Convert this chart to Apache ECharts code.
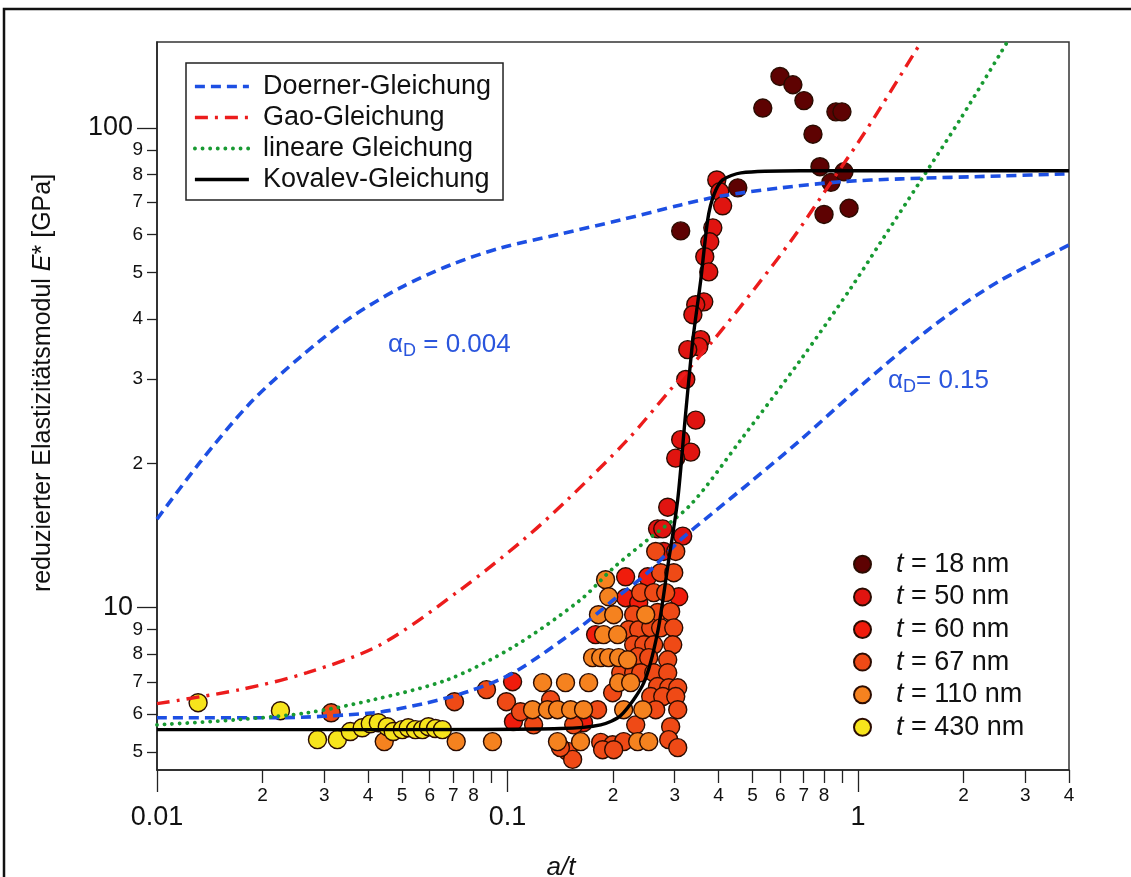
<!DOCTYPE html>
<html><head><meta charset="utf-8">
<script src="https://cdn.jsdelivr.net/npm/echarts@6/dist/echarts.min.js"></script>
<style>html,body{margin:0;padding:0;background:#fff}#c{width:1131px;height:877px}</style>
</head><body><div id="c"></div>
<script>
const FONT = '"Liberation Sans", Arial, Helvetica, sans-serif';

// ---- axis ticks / labels (real values) ----
const xMinorTicks = [0.02,0.03,0.04,0.05,0.06,0.07,0.08,0.09,0.2,0.3,0.4,0.5,0.6,0.7,0.8,0.9,2,3,4];
const xMinorLabels = [0.02,0.03,0.04,0.05,0.06,0.07,0.08,0.2,0.3,0.4,0.5,0.6,0.7,0.8,2,3,4];
const xMajorTicks = [0.01,0.1,1];
const xMajorText = ['0.01','0.1','1'];
const yMinorTicks = [5,6,7,8,9,20,30,40,50,60,70,80,90];
const yMajorTicks = [10,100];
const yMajorText = ['10','100'];
const xRange = [0.01, 4];
const yRange = [4.59, 151];

// ---- model curves ----
const doernerHigh = [[0.01,15.3],[0.01327,20.1],[0.01844,26.7],[0.02563,33.3],[0.03561,40.2],[0.0494,46.4],[0.06872,51.8],[0.0955,56.2],[0.1416,60.1],[0.2104,64.3],[0.312,69.1],[0.406,72.1],[0.6026,75.0],[0.893,77.2],[1.327,78.3],[2.563,79.4],[4,80.2]];
const doernerLow = [[0.01,5.90],[0.02145,5.90],[0.0414,6.04],[0.05754,6.31],[0.07686,6.68],[0.104,7.32],[0.1616,9.13],[0.2009,10.39],[0.2512,11.83],[0.312,13.86],[0.3802,15.63],[0.4946,18.3],[0.687,22.4],[0.955,27.8],[1.327,34.2],[1.844,41.2],[2.563,48.2],[4,57.0]];
const gao = [[0.01,6.31],[0.01727,6.75],[0.02683,7.32],[0.04336,8.37],[0.0734,10.9],[0.1111,13.86],[0.1484,16.8],[0.2202,22.4],[0.2921,28.5],[0.388,36.2],[0.5044,46.0],[0.6565,59.3],[0.821,75.4],[1.0,93.1],[1.163,110.6],[1.514,151]];
const linear = [[0.01,5.70],[0.01727,5.85],[0.02683,6.04],[0.0414,6.43],[0.0674,7.08],[0.104,8.29],[0.1616,10.39],[0.2009,12.12],[0.2512,13.86],[0.3333,16.4],[0.4636,22.4],[0.687,32.9],[0.955,46.4],[1.163,57.9],[1.514,77.9],[1.969,104.9],[2.666,151]];
const kovalev = [[0.01,5.57],[0.0494,5.57],[0.1416,5.6],[0.1845,5.70],[0.2104,5.96],[0.245,6.98],[0.268,8.87],[0.2865,12.17],[0.306,16.8],[0.321,24.6],[0.338,36.2],[0.356,48.2],[0.3725,64.3],[0.388,72.5],[0.411,77.9],[0.4636,80.6],[0.687,81.4],[4,81.4]];

// ---- measurements ----
const t18 = [[0.535,110],[0.599,128],[0.652,123],[0.701,114],[0.744,97],[0.779,83],[0.865,108],[0.900,108],[0.837,77],[0.912,81],[0.800,66],[0.943,68],[0.312,61],[0.454,75]];
const t50 = [[0.3955,77.9],[0.4034,73.6],[0.411,68.8],[0.3853,61.9],[0.3777,57.9],[0.3655,53.9],[0.3752,50.1],[0.3631,43.4],[0.3444,42.8],[0.338,40.8],[0.356,36.2],[0.3513,35.0],[0.3268,34.5],[0.3226,29.9],[0.3444,24.6],[0.312,22.4],[0.3333,21.1],[0.302,20.5],[0.2865,16.2],[0.268,14.6],[0.2773,14.6],[0.3162,14.1],[0.2791,13.1]];
const t60 = [[0.2173,11.6],[0.2512,11.6],[0.2173,10.49],[0.2368,10.24],[0.308,10.54],[0.1784,8.79],[0.1034,7.01],[0.104,5.79],[0.1648,5.76]];
const t67 = [[0.2735,11.83],[0.2981,11.83],[0.2399,10.75],[0.2613,10.75],[0.2827,10.75],[0.268,9.77],[0.2921,9.81],[0.2291,9.67],[0.2217,9.0],[0.2368,9.0],[0.2562,9.08],[0.2735,9.08],[0.2981,9.08],[0.2291,8.37],[0.245,8.37],[0.2613,8.37],[0.2961,8.37],[0.2352,7.91],[0.2529,7.87],[0.2865,7.79],[0.2104,7.32],[0.2291,7.32],[0.2399,7.32],[0.2613,7.32],[0.2865,7.32],[0.268,6.85],[0.2884,6.81],[0.306,6.81],[0.1995,6.65],[0.2562,6.53],[0.2773,6.53],[0.302,6.53],[0.1807,6.13],[0.2648,6.13],[0.306,6.13],[0.2322,5.70],[0.2921,5.65],[0.1545,5.70],[0.1845,5.24],[0.1995,5.18],[0.2145,5.26],[0.2884,5.31],[0.1484,5.02],[0.1868,5.06],[0.2009,5.06],[0.306,5.11],[0.1534,4.83],[0.2648,13.1],[0.302,13.1],[0.0706,6.37],[0.0871,6.75],[0.0993,6.37],[0.1089,6.07],[0.1187,5.70],[0.1327,6.43],[0.1416,5.11],[0.0314,6.04]];
const t110 = [[0.1905,11.44],[0.1944,10.54],[0.1818,9.67],[0.2009,9.67],[0.2479,9.67],[0.188,8.79],[0.2062,8.79],[0.1749,7.87],[0.1845,7.87],[0.1944,7.87],[0.2076,7.87],[0.2202,7.79],[0.1259,6.98],[0.1464,6.98],[0.1704,6.98],[0.2076,6.98],[0.2246,6.98],[0.1179,6.13],[0.1301,6.13],[0.1389,6.13],[0.1514,6.13],[0.1648,6.13],[0.2145,6.13],[0.2432,6.13],[0.1389,5.26],[0.1616,5.26],[0.2352,5.26],[0.2529,5.26],[0.0445,5.26],[0.0714,5.26],[0.0906,5.26]];
const t430 = [[0.0131,6.34],[0.0225,6.10],[0.0287,5.31],[0.0327,5.31],[0.0356,5.52],[0.0385,5.62],[0.0406,5.73],[0.0428,5.76],[0.0454,5.65],[0.0472,5.52],[0.0501,5.57],[0.0521,5.62],[0.0546,5.57],[0.0572,5.57],[0.0595,5.65],[0.0623,5.60],[0.0652,5.57]];

const lineNames = ['Doerner-Gleichung','Gao-Gleichung','lineare Gleichung','Kovalev-Gleichung'];
const scatterNames = ['t = 18 nm','t = 50 nm','t = 60 nm','t = 67 nm','t = 110 nm','t = 430 nm'];
const scatterData = [t18, t50, t60, t67, t110, t430];
const scatterColors = ['#5e0202','#e01410','#f01c0c','#ef4a16','#f5821f','#f7e41c'];

const L = v => Math.log10(v);
const lx = [L(xRange[0]), L(xRange[1])];
const ly = [L(yRange[0]), L(yRange[1])];
const digit = v => { const r = Math.pow(10, v); return String(Math.round(r / Math.pow(10, Math.floor(v + 1e-9)))); };
const nearestText = (vals, texts) => v => { let b = 0; vals.forEach((t, i) => { if (Math.abs(L(t) - v) < Math.abs(L(vals[b]) - v)) b = i; }); return texts[b]; };

const hidden = { axisLine:{show:false, onZero:false}, axisTick:{show:false}, axisLabel:{show:false}, splitLine:{show:false} };

const option = {
  backgroundColor: '#fff',
  animation: false,
  textStyle: { fontFamily: FONT },
  grid: { left: 157, right: 62, top: 42, bottom: 107, show: true, borderColor: '#333', borderWidth: 1.5, backgroundColor: 'transparent' },
  xAxis: [
    Object.assign({ type: 'log', logBase: 10, min: xRange[0], max: xRange[1], position: 'bottom' }, hidden),
    { type: 'value', min: lx[0], max: lx[1], position: 'bottom', splitLine:{show:false},
      axisLine: { show: true, onZero: false, lineStyle: { color: '#222', width: 1.5 } },
      axisTick: { show: true, length: 13, customValues: xMinorTicks.map(L), lineStyle: { color: '#222', width: 1.3 } },
      axisLabel: { show: true, margin: 16, fontSize: 19, color: '#111', fontFamily: FONT, customValues: xMinorLabels.map(L), formatter: digit } },
    { type: 'value', min: lx[0], max: lx[1], position: 'bottom', splitLine:{show:false},
      axisLine: { show: false, onZero: false },
      axisTick: { show: true, length: 22, customValues: xMajorTicks.map(L), lineStyle: { color: '#222', width: 1.3 } },
      axisLabel: { show: true, margin: 34, fontSize: 27, color: '#111', fontFamily: FONT, customValues: xMajorTicks.map(L), formatter: nearestText(xMajorTicks, xMajorText) } }
  ],
  yAxis: [
    Object.assign({ type: 'log', logBase: 10, min: yRange[0], max: yRange[1], position: 'left' }, hidden),
    { type: 'value', min: ly[0], max: ly[1], position: 'left', splitLine:{show:false},
      axisLine: { show: true, onZero: false, lineStyle: { color: '#222', width: 1.5 } },
      axisTick: { show: true, length: 10, customValues: yMinorTicks.map(L), lineStyle: { color: '#222', width: 1.3 } },
      axisLabel: { show: true, margin: 14, fontSize: 19, color: '#111', fontFamily: FONT, customValues: yMinorTicks.map(L), formatter: digit } },
    { type: 'value', min: ly[0], max: ly[1], position: 'left', splitLine:{show:false},
      axisLine: { show: false, onZero: false },
      axisTick: { show: true, length: 20, customValues: yMajorTicks.map(L), lineStyle: { color: '#222', width: 1.3 } },
      axisLabel: { show: true, margin: 24, fontSize: 27, color: '#111', fontFamily: FONT, customValues: yMajorTicks.map(L), formatter: nearestText(yMajorTicks, yMajorText) } }
  ],
  legend: [
    { data: lineNames, orient: 'vertical', left: 186, top: 63, selectedMode: false,
      itemWidth: 54, itemHeight: 12, itemGap: 0, padding: [8, 12, 5, 7],
      itemStyle: { opacity: 0, color: 'transparent', borderWidth: 0 },
      lineStyle: { width: 'inherit' },
      borderColor: '#222', borderWidth: 1.5, backgroundColor: '#fff',
      textStyle: { fontFamily: FONT, fontSize: 27, color: '#111', lineHeight: 31, padding: [0, 0, 0, 9] } },
    { data: scatterNames, orient: 'vertical', left: 853, top: 548, selectedMode: false,
      icon: 'circle', itemWidth: 17, itemHeight: 17, itemGap: 0, padding: 0,
      formatter: n => '{i|t}' + n.slice(1),
      textStyle: { fontFamily: FONT, fontSize: 27, color: '#111', lineHeight: 32.6, padding: [0, 0, 0, 20],
        rich: { i: { fontStyle: 'italic', fontFamily: FONT, fontSize: 27, color: '#111', lineHeight: 32.6 } } } }
  ],
  series: [
    ...scatterData.map((d, i) => ({
      name: scatterNames[i], type: 'scatter', data: d, symbolSize: 18, z: 2,
      itemStyle: { color: scatterColors[i], borderColor: '#2b0c02', borderWidth: 1.4, opacity: 1 }
    })),
    { name: lineNames[0], type: 'line', data: doernerHigh, smooth: 0.3, symbol: 'none', z: 5, lineStyle: { color: '#1d4fe3', width: 3.6, type: [10, 6] }, itemStyle: { color: '#1d4fe3' } },
    { name: lineNames[0], type: 'line', data: doernerLow, smooth: 0.3, symbol: 'none', z: 5, lineStyle: { color: '#1d4fe3', width: 3.6, type: [10, 6] }, itemStyle: { color: '#1d4fe3' } },
    { name: lineNames[1], type: 'line', data: gao, smooth: 0.3, symbol: 'none', z: 5, lineStyle: { color: '#ec1c1c', width: 3.4, type: [13, 7, 3, 7] }, itemStyle: { color: '#ec1c1c' } },
    { name: lineNames[2], type: 'line', data: linear, smooth: 0.3, symbol: 'none', z: 5, lineStyle: { color: '#189a32', width: 3.8, type: [0.1, 7.5], cap: 'round' }, itemStyle: { color: '#189a32' } },
    { name: lineNames[3], type: 'line', data: kovalev, smooth: 0.25, symbol: 'none', z: 6, lineStyle: { color: '#000', width: 3.4 }, itemStyle: { color: '#000' } }
  ],
  graphic: [
    { type: 'rect', silent: true, shape: { x: 4, y: 9, width: 1300, height: 1000 }, style: { fill: 'none', stroke: '#111', lineWidth: 2.5 } },
    { type: 'text', silent: true, x: 43, y: 383, rotation: Math.PI / 2,
      style: { text: 'reduzierter Elastizitätsmodul {i|E}* [GPa]', fontFamily: FONT, fontSize: 25, fill: '#111', align: 'center', verticalAlign: 'middle',
        rich: { i: { fontStyle: 'italic', fontFamily: FONT, fontSize: 25, fill: '#111' } } } },
    { type: 'text', silent: true, x: 561, y: 868,
      style: { text: 'a/t', fontFamily: FONT, fontSize: 26, fontStyle: 'italic', fill: '#111', align: 'center', verticalAlign: 'middle' } },
    { type: 'text', silent: true, x: 388, y: 345,
      style: { text: '{a|α}{s|D}{a| = 0.004}', align: 'left', verticalAlign: 'middle',
        rich: { a: { fontFamily: FONT, fontSize: 26, fill: '#2a55dd', lineHeight: 30 }, s: { fontFamily: FONT, fontSize: 18, fill: '#2a55dd', lineHeight: 30, padding: [12, 0, 0, 0] } } } },
    { type: 'text', silent: true, x: 888, y: 381,
      style: { text: '{a|α}{s|D}{a|= 0.15}', align: 'left', verticalAlign: 'middle',
        rich: { a: { fontFamily: FONT, fontSize: 26, fill: '#2a55dd', lineHeight: 30 }, s: { fontFamily: FONT, fontSize: 18, fill: '#2a55dd', lineHeight: 30, padding: [12, 0, 0, 0] } } } }
  ]
};
echarts.init(document.getElementById('c'), null, { renderer: 'canvas' }).setOption(option);
</script></body></html>
